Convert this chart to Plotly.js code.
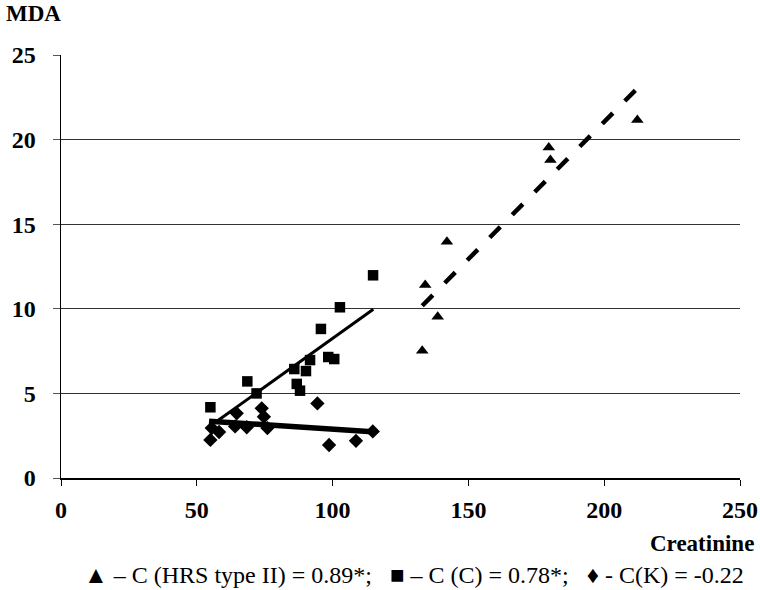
<!DOCTYPE html>
<html>
<head>
<meta charset="utf-8">
<script src="https://cdn.plot.ly/plotly-3.0.1.min.js"></script>
<style>html,body{margin:0;padding:0;background:#fff;}#chart{width:760px;height:590px;}</style>
</head>
<body>
<div id="chart"></div>
<script>
// HRS type II (triangles)
var hrsX = [133.0, 138.7, 134.1, 142.1, 179.6, 180.2, 212.2];
var hrsY = [7.52, 9.53, 11.4, 13.97, 19.54, 18.8, 21.16];
// C (squares)
var cX = [55.0, 68.6, 72.0, 85.9, 86.8, 88.0, 90.2, 91.7, 95.7, 98.4, 100.6, 102.7, 114.9];
var cY = [4.18, 5.71, 5.0, 6.44, 5.56, 5.16, 6.32, 6.97, 8.81, 7.15, 7.03, 10.09, 11.98];
// K (diamonds)
var kX = [55.0, 55.5, 58.2, 64.1, 64.7, 68.4, 73.9, 74.7, 76.0, 94.4, 98.7, 108.6, 114.8];
var kY = [2.25, 2.95, 2.72, 3.05, 3.82, 3.0, 4.12, 3.62, 2.95, 4.41, 1.95, 2.2, 2.75];
// Trend lines
var hrsTrendX = [133.0, 212.2];
var hrsTrendY = [10.18, 23.03];
var cTrendX = [56.5, 115.0];
var cTrendY = [3.25, 9.97];
var kTrendX = [54.5, 114.6];
var kTrendY = [3.36, 2.74];
// Axis ticks
var xTicks = [0, 50, 100, 150, 200, 250];
var yTicks = [0, 5, 10, 15, 20, 25];

var SERIF = 'Liberation Serif';

var traces = [
  {x: hrsTrendX, y: hrsTrendY, mode: 'lines', line: {color: '#000', width: 4.5, dash: '15px,17px'}, hoverinfo: 'skip'},
  {x: cTrendX, y: cTrendY, mode: 'lines', line: {color: '#000', width: 3}, hoverinfo: 'skip'},
  {x: kTrendX, y: kTrendY, mode: 'lines', line: {color: '#000', width: 5.5}, hoverinfo: 'skip'},
  {x: hrsX, y: hrsY, mode: 'markers', marker: {symbol: 'triangle-up', size: 11, color: '#000'}},
  {x: cX, y: cY, mode: 'markers', marker: {symbol: 'square', size: 10.5, color: '#000'}},
  {x: kX, y: kY, mode: 'markers', marker: {symbol: 'diamond', size: 11, color: '#000'}}
];

var tickFont = {family: SERIF, size: 24, color: '#000', weight: 'bold'};

var layout = {
  width: 760, height: 590,
  margin: {l: 61, r: 20, t: 55, b: 112},
  paper_bgcolor: '#fff', plot_bgcolor: '#fff',
  showlegend: false,
  font: {family: SERIF, color: '#000'},
  xaxis: {
    range: [0, 250], tickvals: xTicks,
    showgrid: false, zeroline: false,
    showline: true, linecolor: '#000', linewidth: 1.5,
    ticks: 'outside', ticklen: 6, tickcolor: '#000', tickwidth: 1,
    ticklabelstandoff: 4,
    tickfont: tickFont
  },
  yaxis: {
    range: [0, 25], tickvals: yTicks,
    showgrid: true, gridcolor: '#333', gridwidth: 1,
    zeroline: false,
    showline: true, linecolor: '#000', linewidth: 1.5,
    ticks: 'outside', ticklen: 7, tickcolor: '#555', tickwidth: 1,
    ticklabelstandoff: 12,
    tickfont: tickFont
  },
  annotations: [
    {text: 'MDA', xref: 'paper', yref: 'paper', x: -57/679, y: 1 + 42/423, xanchor: 'left', yanchor: 'middle', showarrow: false,
     font: {family: SERIF, size: 23, color: '#000', weight: 'bold'}},
    {text: 'Creatinine', xref: 'paper', yref: 'paper', x: (756-61)/679, y: -65/423, xanchor: 'right', yanchor: 'middle', showarrow: false,
     font: {family: SERIF, size: 23, color: '#000', weight: 'bold'}},
    {text: '▲ – C (HRS type II) = 0.89*;   ■ – C (C) = 0.78*;   ♦ - C(K) = -0.22', xref: 'paper', yref: 'paper', x: (414-61)/679, y: -97/423, xanchor: 'center', yanchor: 'middle', showarrow: false,
     font: {family: SERIF, size: 24, color: '#000'}}
  ]
};

Plotly.newPlot('chart', traces, layout, {displayModeBar: false, staticPlot: true});
</script>
</body>
</html>
